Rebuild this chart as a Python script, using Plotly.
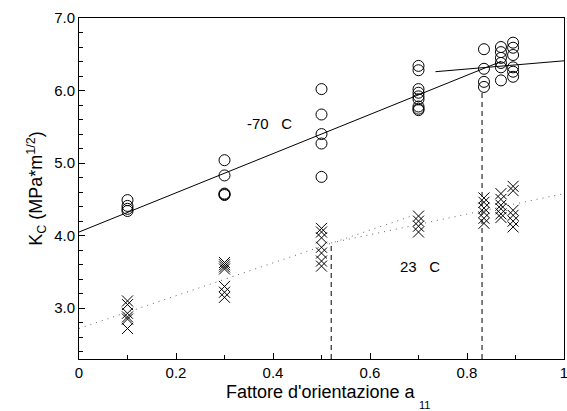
import plotly.graph_objects as go

# -70 C data (circles)
circ_x = [0.1]*4 + [0.3]*5 + [0.5]*5 + [0.7]*9 + [0.835]*4 + [0.87]*6 + [0.895]*6
circ_y = [4.49, 4.41, 4.37, 4.34,
          5.04, 4.83, 4.58, 4.57, 4.56,
          6.02, 5.67, 5.40, 5.27, 4.81,
          6.34, 6.28, 6.02, 5.97, 5.92, 5.88, 5.78, 5.75, 5.73,
          6.57, 6.30, 6.12, 6.05,
          6.60, 6.53, 6.45, 6.38, 6.32, 6.14,
          6.66, 6.59, 6.49, 6.32, 6.26, 6.19]

# 23 C data (crosses)
cross_x = [0.1]*6 + [0.3]*7 + [0.5]*7 + [0.7]*4 + [0.835]*6 + [0.87]*6 + [0.895]*6
cross_y = [3.10, 3.05, 2.93, 2.88, 2.85, 2.72,
           3.63, 3.60, 3.57, 3.54, 3.30, 3.22, 3.15,
           4.10, 4.05, 3.97, 3.84, 3.76, 3.65, 3.58,
           4.27, 4.20, 4.13, 4.05,
           4.52, 4.46, 4.38, 4.32, 4.24, 4.17,
           4.58, 4.50, 4.42, 4.37, 4.30, 4.25,
           4.68, 4.62, 4.35, 4.28, 4.20, 4.12]

# fit lines
fit1_x = [0.0, 0.87]; fit1_y = [4.05, 6.40]
fit2_x = [0.735, 1.0]; fit2_y = [6.26, 6.41]
dot1_x = [0.0, 0.69]; dot1_y = [2.72, 4.28]
dot2_x = [0.52, 1.0]; dot2_y = [3.90, 4.58]
dash1_x = [0.52, 0.52]; dash1_y = [2.3, 3.90]
dash2_x = [0.831, 0.831]; dash2_y = [2.3, 5.97]

x_ticks = [0, 0.2, 0.4, 0.6, 0.8, 1.0]
x_labels = ["0", "0.2", "0.4", "0.6", "0.8", "1"]
y_ticks = [3.0, 4.0, 5.0, 6.0, 7.0]
y_labels = ["3.0", "4.0", "5.0", "6.0", "7.0"]

FONT = "Liberation Sans, Arial"

fig = go.Figure()
line_style = dict(color="black", width=1)
fig.add_trace(go.Scatter(x=fit1_x, y=fit1_y, mode="lines", line=line_style))
fig.add_trace(go.Scatter(x=fit2_x, y=fit2_y, mode="lines", line=line_style))
fig.add_trace(go.Scatter(x=dot1_x, y=dot1_y, mode="lines", line=dict(color="#666", width=1, dash="1px,5px")))
fig.add_trace(go.Scatter(x=dot2_x, y=dot2_y, mode="lines", line=dict(color="#666", width=1, dash="1px,5px")))
fig.add_trace(go.Scatter(x=dash1_x, y=dash1_y, mode="lines", line=dict(color="black", width=1, dash="5px,4px")))
fig.add_trace(go.Scatter(x=dash2_x, y=dash2_y, mode="lines", line=dict(color="black", width=1, dash="5px,4px")))
fig.add_trace(go.Scatter(x=circ_x, y=circ_y, mode="markers",
                         marker=dict(symbol="circle-open", size=11, color="black", line=dict(width=1))))
fig.add_trace(go.Scatter(x=cross_x, y=cross_y, mode="markers",
                         marker=dict(symbol="x-thin-open", size=11, color="black", line=dict(width=1))))

fig.add_annotation(x=0.393, y=5.54, text="-70   C", showarrow=False,
                   font=dict(size=15, color="black", family=FONT))
fig.add_annotation(x=0.704, y=3.57, text="23   C", showarrow=False,
                   font=dict(size=15, color="black", family=FONT))

# x-axis title as text with a low subscript
fig.add_annotation(xref="paper", yref="paper", x=0.698, y=-0.097, xanchor="right", yanchor="middle",
                   text="Fattore d'orientazione a", showarrow=False,
                   font=dict(size=18, color="black", family=FONT))
fig.add_annotation(xref="paper", yref="paper", x=0.697, y=-0.135, xanchor="left", yanchor="middle",
                   text="11", showarrow=False,
                   font=dict(size=11, color="black", family=FONT))

fig.update_layout(
    width=567, height=411,
    margin=dict(l=79, r=3, t=18, b=52),
    plot_bgcolor="white", paper_bgcolor="white",
    showlegend=False,
    font=dict(family=FONT, size=15, color="black"),
)
fig.update_xaxes(
    range=[0, 1], tickvals=x_ticks, ticktext=x_labels,
    ticks="inside", ticklen=6, tickcolor="black", tickwidth=1,
    minor=dict(dtick=0.1, ticks="inside", ticklen=4, tickcolor="black"),
    showline=True, linecolor="black", linewidth=1, mirror=True,
    showgrid=False, zeroline=False, ticklabeloverflow="allow", automargin=False,
    tickfont=dict(size=15),
)
fig.update_yaxes(
    range=[2.3, 7.0], tickvals=y_ticks, ticktext=y_labels,
    ticks="inside", ticklen=6, tickcolor="black", tickwidth=1,
    minor=dict(dtick=0.2, tick0=0, ticks="inside", ticklen=4, tickcolor="black"),
    showline=True, linecolor="black", linewidth=1, mirror=True,
    showgrid=False, zeroline=False,
    title=dict(text="K<sub>C</sub> (MPa*m<sup>1/2</sup>)", font=dict(size=18), standoff=6),
    tickfont=dict(size=15),
)

fig.write_html("out.html")
